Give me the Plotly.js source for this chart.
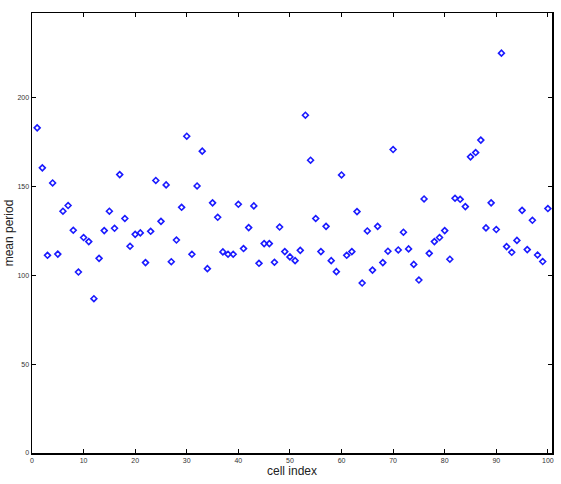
<!DOCTYPE html>
<html>
<head>
<meta charset="utf-8">
<script src="https://cdn.plot.ly/plotly-3.0.1.min.js"></script>
<style>html,body{margin:0;padding:0;background:#fff;}#chart{width:561px;height:484px;}</style>
</head>
<body>
<div id="chart"></div>
<script>
const cellIndex = Array.from({length: 100}, (_, k) => k + 1);
const meanPeriod = [
  182.9, 160.4, 111.2, 151.9, 111.9, 136.0, 139.2, 125.3, 101.8, 121.2,
  118.9, 86.8, 109.5, 125.1, 136.0, 126.4, 156.6, 131.9, 116.3, 123.0,
  123.8, 107.1, 124.7, 153.3, 130.3, 150.8, 107.6, 119.8, 138.2, 178.2,
  111.8, 150.2, 169.8, 103.7, 140.7, 132.6, 113.1, 111.8, 111.8, 139.9,
  115.0, 126.8, 139.0, 106.7, 117.8, 117.8, 107.3, 127.1, 113.3, 110.3,
  108.2, 114.0, 190.0, 164.7, 131.9, 113.3, 127.5, 108.2, 102.0, 156.4,
  111.2, 113.3, 135.8, 95.6, 124.9, 102.9, 127.5, 107.1, 113.5, 170.7,
  114.2, 124.2, 114.8, 106.1, 97.3, 142.9, 112.3, 118.9, 121.2, 125.1,
  109.0, 143.3, 142.7, 138.6, 166.6, 169.0, 176.0, 126.6, 140.7, 125.7,
  224.9, 116.1, 112.9, 119.6, 136.5, 114.4, 130.9, 111.4, 107.7, 137.5
];
const xTicks = [0, 10, 20, 30, 40, 50, 60, 70, 80, 90, 100];
const yTicks = [0, 50, 100, 150, 200];

const trace = {
  x: cellIndex,
  y: meanPeriod,
  type: 'scatter',
  mode: 'markers',
  marker: {symbol: 'diamond-open', size: 4.5, color: '#1a1aff', line: {width: 1.6, color: '#1a1aff'}},
  hoverinfo: 'skip'
};

const axisCommon = {
  showline: true, linecolor: '#000', linewidth: 1.5, mirror: 'ticks',
  ticks: 'inside', ticklen: 4, tickwidth: 1, tickcolor: '#000',
  showgrid: false, zeroline: false,
  tickfont: {family: 'Liberation Sans, Arial, sans-serif', size: 7, color: '#333'}
};

const layout = {
  width: 561, height: 484,
  margin: {l: 32, r: 9, t: 13, b: 31},
  paper_bgcolor: '#fff', plot_bgcolor: '#fff',
  showlegend: false,
  xaxis: Object.assign({}, axisCommon, {
    range: [0, 100.8], tickvals: xTicks, ticktext: xTicks.map(String),
    title: {text: 'cell index', font: {family: 'Liberation Sans, Arial, sans-serif', size: 12, color: '#222'}, standoff: 1}
  }),
  yaxis: Object.assign({}, axisCommon, {
    range: [0, 247.5], tickvals: yTicks, ticktext: yTicks.map(String),
    title: {text: 'mean period', font: {family: 'Liberation Sans, Arial, sans-serif', size: 12, color: '#222'}, standoff: 1}
  })
};

Plotly.newPlot('chart', [trace], layout, {displayModeBar: false, staticPlot: true});
</script>
</body>
</html>
